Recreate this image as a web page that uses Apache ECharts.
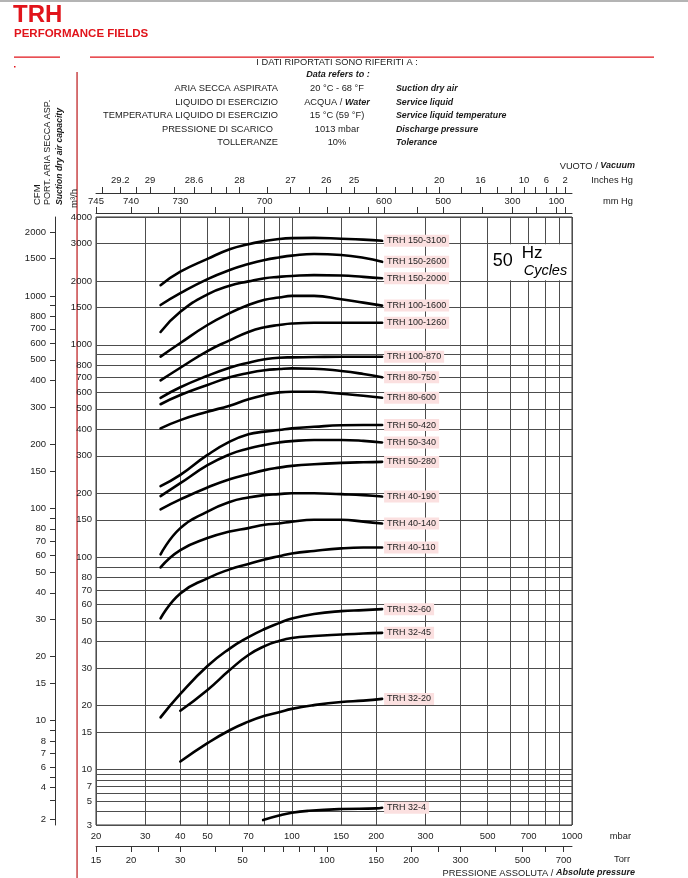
<!DOCTYPE html>
<html>
<head>
<meta charset="utf-8">
<title>TRH Performance Fields</title>
<script src="https://cdn.jsdelivr.net/npm/echarts@6.0.0/dist/echarts.min.js"></script>
<style>
html,body{margin:0;padding:0;background:#fff;}
#chart{width:688px;height:878px;}
</style>
</head>
<body>
<div id="chart"></div>
<script>
// ================= DATA =================
// absolute pressure (mbar) at which the curves were read
const pressA = [34, 40, 50, 60, 70, 80, 90, 100, 120, 150, 180, 210];
const pressB = [40, 50, 60, 70, 80, 90, 100, 120, 150, 180, 210];
const pressC = [79, 90, 100, 115, 150, 200, 210];

// suction capacity (m3/h)
const trh150_3100 = [1910, 2210, 2540, 2820, 2980, 3080, 3150, 3180, 3190, 3160, 3130, 3090];
const trh150_2600 = [1540, 1750, 2040, 2250, 2400, 2510, 2580, 2630, 2680, 2650, 2570, 2460];
const trh150_2000 = [1150, 1430, 1730, 1900, 1990, 2060, 2090, 2110, 2130, 2120, 2090, 2060];
const trh100_1600 = [880, 1020, 1240, 1410, 1540, 1630, 1670, 1700, 1700, 1640, 1580, 1530];
const trh100_1260 = [680, 780, 935, 1050, 1150, 1210, 1240, 1260, 1270, 1270, 1270, 1270];
const trh100_870  = [563, 631, 715, 780, 824, 855, 870, 873, 876, 879, 879, 879];
const trh80_750   = [525, 580, 647, 703, 737, 759, 769, 775, 772, 753, 729, 703];
const trh80_600   = [404, 442, 484, 517, 554, 580, 597, 601, 601, 588, 576, 563];
const trh50_420   = [216, 244, 303, 350, 379, 390, 397, 404, 411, 418, 419, 419];
const trh50_340   = [194, 223, 271, 305, 325, 338, 347, 352, 356, 356, 353, 347];
const trh50_280   = [168, 187, 213, 233, 246, 257, 264, 269, 274, 278, 280, 281];
const trh40_190   = [103, 137, 164, 182, 191, 196, 198, 200, 200, 198, 196, 193];
const trh40_140   = [89.5, 108, 123, 132, 137, 142, 144, 147, 150, 150, 147, 144];
const trh40_110   = [51.5, 67.5, 79.5, 87.6, 92.8, 97.6, 101, 104, 107, 110, 111, 111];
const trh32_60    = [17.6, 22.7, 30.7, 37.1, 42.0, 45.9, 48.9, 51.4, 54.0, 55.7, 56.3, 56.9];
const trh32_45    = [18.9, 23.7, 29.4, 34.6, 38.1, 40.3, 41.6, 42.5, 43.2, 43.7, 44.0];
const trh32_20    = [10.9, 13.3, 15.3, 16.8, 17.9, 18.6, 19.3, 20.1, 20.8, 21.1, 21.5];
const trh32_4     = [3.34, 3.68, 3.91, 4.08, 4.24, 4.30, 4.36];

const curveNames = ['TRH 150-3100','TRH 150-2600','TRH 150-2000','TRH 100-1600','TRH 100-1260',
  'TRH 100-870','TRH 80-750','TRH 80-600','TRH 50-420','TRH 50-340','TRH 50-280',
  'TRH 40-190','TRH 40-140','TRH 40-110','TRH 32-60','TRH 32-45','TRH 32-20','TRH 32-4'];
const curveValues = [trh150_3100, trh150_2600, trh150_2000, trh100_1600, trh100_1260,
  trh100_870, trh80_750, trh80_600, trh50_420, trh50_340, trh50_280,
  trh40_190, trh40_140, trh40_110, trh32_60, trh32_45, trh32_20, trh32_4];
const curvePress = [pressA, pressA, pressA, pressA, pressA, pressA, pressA, pressA, pressA,
  pressA, pressA, pressA, pressA, pressA, pressA, pressB, pressB, pressC];

// axis ticks / labels
const mbarGrid   = [20,30,40,50,60,70,80,90,100,150,200,300,400,500,600,700,800,900,1000];
const mbarLabels = [20,30,40,50,70,100,150,200,300,500,700,1000];
const torrTicks  = [15,20,25,30,40,50,60,70,80,90,100,150,200,250,300,400,500,600,700];
const torrLabels = [15,20,30,50,100,150,200,300,500,700];
const mmHgTicks  = [745,740,735,730,720,710,700,680,660,640,620,600,550,500,400,300,200,100,50];
const mmHgLabels = [745,740,730,700,600,500,300,100];
const inHgTicks  = [29.3,29.2,29.1,29,28.8,28.6,28.4,28.2,28,27.5,27,26.5,26,25.5,25,24,23,22,21,20,18,16,14,12,10,8,6,4,2];
const inHgLabels = [29.2,29,28.6,28,27,26,25,20,16,10,6,2];
const capGrid    = [4000,3000,2000,1500,1000,900,800,700,600,500,400,300,200,150,100,90,80,70,60,50,40,30,20,15,10,9,8,7,6,5,4,3];
const capLabels  = [4000,3000,2000,1500,1000,800,700,600,500,400,300,200,150,100,80,70,60,50,40,30,20,15,10,7,5,3];
const cfmTicks   = [2000,1500,1000,900,800,700,600,500,400,300,200,150,100,90,80,70,60,50,40,30,20,15,10,9,8,7,6,5,4,3,2];
const cfmLabels  = [2000,1500,1000,800,700,600,500,400,300,200,150,100,80,70,60,50,40,30,20,15,10,8,7,6,4,2];

const infoLeft  = ['ARIA SECCA ASPIRATA','LIQUIDO DI ESERCIZIO','TEMPERATURA LIQUIDO DI ESERCIZIO','PRESSIONE DI SCARICO','TOLLERANZE'];
const infoMid   = ['20 °C - 68 °F','ACQUA / Water','15 °C (59 °F)','1013 mbar','10%'];
const infoRight = ['Suction dry air','Service liquid','Service liquid temperature','Discharge pressure','Tolerance'];

// ================= SCALES =================
const FF = "'Liberation Sans', Arial, Helvetica, sans-serif";
const RED = '#e1141b';
const TORR = 1.333224;            // mbar per Torr
const CFM = 1.699;                // m3/h per CFM
const X0 = Math.log10(20), X1 = 3;
// log scale; below 10 m3/h the chart uses half the decade height
const ty = v => { const l = Math.log10(v); return l >= 1 ? l : 1 + (l - 1) * 0.5; };
const Y0 = ty(3), Y1 = ty(4000);
const clampX = p => Math.min(X1, Math.max(X0, p));
const posMbar = m => clampX(Math.log10(m));
const posTorr = t => posMbar(t * TORR);
const posMmHg = v => posMbar((760 - v) * TORR);
const posInHg = v => posMbar((760 - v * 25.4) * TORR);
const posCfm  = c => ty(c * CFM);

function makeFmt(vals, posFn) {
  const m = {};
  vals.forEach(v => { m[posFn(v).toFixed(5)] = String(v); });
  return val => { const k = Number(val).toFixed(5); return m[k] !== undefined ? m[k] : ''; };
}
const lab = { fontSize: 9.5, fontFamily: FF, color: '#222' };
const gridLine = { show: true, lineStyle: { color: '#4d4d4d', width: 1 } };

const chart = echarts.init(document.getElementById('chart'), null, { renderer: 'canvas', width: 688, height: 878 });

const option = {
  animation: false,
  backgroundColor: '#fff',
  textStyle: { fontFamily: FF },
  grid: { left: 96, right: 116, top: 217, bottom: 53, show: true, borderColor: '#333', borderWidth: 1, outerBoundsMode: 'none' },
  xAxis: [
    { type: 'value', min: X0, max: X1, position: 'bottom',
      axisLine: { show: false, onZero: false },
      axisTick: { show: false, customValues: mbarGrid.map(posMbar) },
      axisLabel: Object.assign({}, lab, { margin: 6, customValues: mbarLabels.map(posMbar), formatter: makeFmt(mbarLabels, posMbar) }),
      splitLine: gridLine },
    { type: 'value', min: X0, max: X1, position: 'bottom', offset: 21,
      axisLine: { show: true, onZero: false, lineStyle: { color: '#333', width: 1 } },
      axisTick: { show: true, length: 6, lineStyle: { color: '#333' }, customValues: torrTicks.map(posTorr) },
      axisLabel: Object.assign({}, lab, { margin: 9, customValues: torrLabels.map(posTorr), formatter: makeFmt(torrLabels, posTorr) }),
      splitLine: { show: false } },
    { type: 'value', min: X0, max: X1, position: 'top', offset: 4,
      axisLine: { show: true, onZero: false, lineStyle: { color: '#333', width: 1 } },
      axisTick: { show: true, length: 6, lineStyle: { color: '#333' }, customValues: mmHgTicks.map(posMmHg) },
      axisLabel: Object.assign({}, lab, { margin: 7, customValues: mmHgLabels.map(posMmHg), formatter: makeFmt(mmHgLabels, posMmHg) }),
      splitLine: { show: false } },
    { type: 'value', min: X0, max: X1, position: 'top', offset: 24,
      axisLine: { show: true, onZero: false, lineStyle: { color: '#333', width: 1 } },
      axisTick: { show: true, length: 6, lineStyle: { color: '#333' }, customValues: inHgTicks.map(posInHg) },
      axisLabel: Object.assign({}, lab, { margin: 8, customValues: inHgLabels.map(posInHg), formatter: makeFmt(inHgLabels, posInHg) }),
      splitLine: { show: false } }
  ],
  yAxis: [
    { type: 'value', min: Y0, max: Y1, position: 'left',
      axisLine: { show: false, onZero: false },
      axisTick: { show: false, customValues: capGrid.map(ty) },
      axisLabel: Object.assign({}, lab, { margin: 4, customValues: capLabels.map(ty), formatter: makeFmt(capLabels, ty) }),
      splitLine: gridLine },
    { type: 'value', min: Y0, max: Y1, position: 'left', offset: 41,
      axisLine: { show: true, onZero: false, lineStyle: { color: '#333', width: 1 } },
      axisTick: { show: true, length: 5, lineStyle: { color: '#333' }, customValues: cfmTicks.map(posCfm) },
      axisLabel: Object.assign({}, lab, { margin: 9, customValues: cfmLabels.map(posCfm), formatter: makeFmt(cfmLabels, posCfm) }),
      splitLine: { show: false } }
  ],
  series: curveNames.map((name, k) => ({
    name, type: 'line', xAxisIndex: 0, yAxisIndex: 0,
    data: curvePress[k].map((p, i) => [Math.log10(p), ty(curveValues[k][i])]),
    smooth: 0.5, symbol: 'none', silent: true, z: 3,
    lineStyle: { color: '#000', width: 2.6, cap: 'round', join: 'round' }, itemStyle: { color: '#000' },
    emphasis: { disabled: true },
    endLabel: { show: true, formatter: '{a}', distance: 2, fontSize: 9, fontFamily: FF, color: '#222',
      backgroundColor: '#fbe0e0', padding: [2, 3, 1, 3] }
  }))
};
chart.setOption(option);

// ================= DECORATION / TEXT =================
function txt(x, y, text, o) {
  o = o || {};
  const align = o.align || 'left', va = o.va || 'middle';
  return { type: 'text', x, y, rotation: o.rot || 0, z: o.z || 10, silent: true,
    style: { text, fill: o.color || '#1a1a1a',
      font: (o.style || 'normal') + ' ' + (o.weight || 'normal') + ' ' + (o.size || 9.3) + 'px ' + FF,
      align, verticalAlign: va, textAlign: align, textVerticalAlign: va, rich: o.rich } };
}
function rect(x, y, w, h, fill, z) {
  return { type: 'rect', silent: true, z: z === undefined ? 1 : z, shape: { x, y, width: w, height: h }, style: { fill } };
}
const richFont = (st, wt, sz) => ({ font: st + ' ' + wt + ' ' + sz + 'px ' + FF, fill: '#1a1a1a' });

const g = [];
g.push(rect(0, 0, 688, 2, '#b4b4b4', 1));
g.push(txt(13, 27, 'TRH', { size: 24, weight: 'bold', color: RED, va: 'bottom' }));
g.push(txt(14, 34, 'PERFORMANCE FIELDS', { size: 11.5, weight: 'bold', color: RED }));
g.push(rect(14, 56.5, 46, 1.2, RED, 1));
g.push(rect(90, 56.5, 564, 1.2, RED, 1));
g.push(rect(14, 66, 1.5, 1.5, RED, 1));
g.push(rect(76.4, 72, 1.3, 806, '#c0282a', -1));

g.push(txt(337, 62, 'I DATI RIPORTATI SONO RIFERITI A :', { align: 'center' }));
g.push(txt(338, 74.5, 'Data refers to :', { align: 'center', style: 'italic', weight: 'bold', size: 9 }));
infoLeft.forEach((s, i) => {
  const y = 88.5 + i * 13.6;
  g.push(txt(i === 3 ? 273 : 278, y, s, { align: 'right' }));
  if (i === 1) {
    g.push(txt(337, y, '{n|ACQUA / }{i|Water}', { align: 'center',
      rich: { n: richFont('normal', 'normal', 9.3), i: richFont('italic', 'bold', 9) } }));
  } else {
    g.push(txt(337, y, infoMid[i], { align: 'center' }));
  }
  g.push(txt(396, y, infoRight[i], { style: 'italic', weight: 'bold', size: 8.8 }));
});

// rotated axis titles
g.push(txt(37, 205, 'CFM', { rot: Math.PI / 2, size: 9.5 }));
g.push(txt(48, 205, 'PORT. ARIA SECCA ASP.', { rot: Math.PI / 2, size: 9 }));
g.push(txt(59.5, 205, 'Suction dry air capacity', { rot: Math.PI / 2, size: 8.6, style: 'italic', weight: 'bold' }));
g.push(txt(74, 208, 'm³/h', { rot: Math.PI / 2, size: 9.5 }));

// axis unit texts
g.push(txt(635, 166, '{n|VUOTO / }{i|Vacuum}', { align: 'right',
  rich: { n: richFont('normal', 'normal', 9.3), i: richFont('italic', 'bold', 9) } }));
g.push(txt(633, 180, 'Inches Hg', { align: 'right' }));
g.push(txt(633, 201, 'mm Hg', { align: 'right' }));
g.push(txt(631, 836, 'mbar', { align: 'right' }));
g.push(txt(630, 859.5, 'Torr', { align: 'right' }));
g.push(txt(635, 873, '{n|PRESSIONE ASSOLUTA / }{i|Absolute pressure}', { align: 'right',
  rich: { n: richFont('normal', 'normal', 9.3), i: richFont('italic', 'bold', 9) } }));

// 50 Hz box (between 500-1000 mbar and 2000-3000 m3/h)
const pA = chart.convertToPixel({ xAxisIndex: 0, yAxisIndex: 0 }, [Math.log10(500), ty(3000)]);
const pB = chart.convertToPixel({ xAxisIndex: 0, yAxisIndex: 0 }, [X1, ty(2000)]);
g.push(rect(pA[0] + 0.6, pA[1] + 0.6, pB[0] - pA[0] - 1.2, pB[1] - pA[1] - 1.2, '#fff', 5));
g.push(txt(pA[0] + 5, pA[1] + 18, '50', { size: 18, z: 6, color: '#000' }));
g.push(txt(pA[0] + 34, pA[1] + 9.5, 'Hz', { size: 17, z: 6, color: '#000' }));
g.push(txt(pA[0] + 36, pA[1] + 27, 'Cycles', { size: 14.5, style: 'italic', z: 6, color: '#000' }));

chart.setOption({ graphic: { elements: g } });
</script>
</body>
</html>
